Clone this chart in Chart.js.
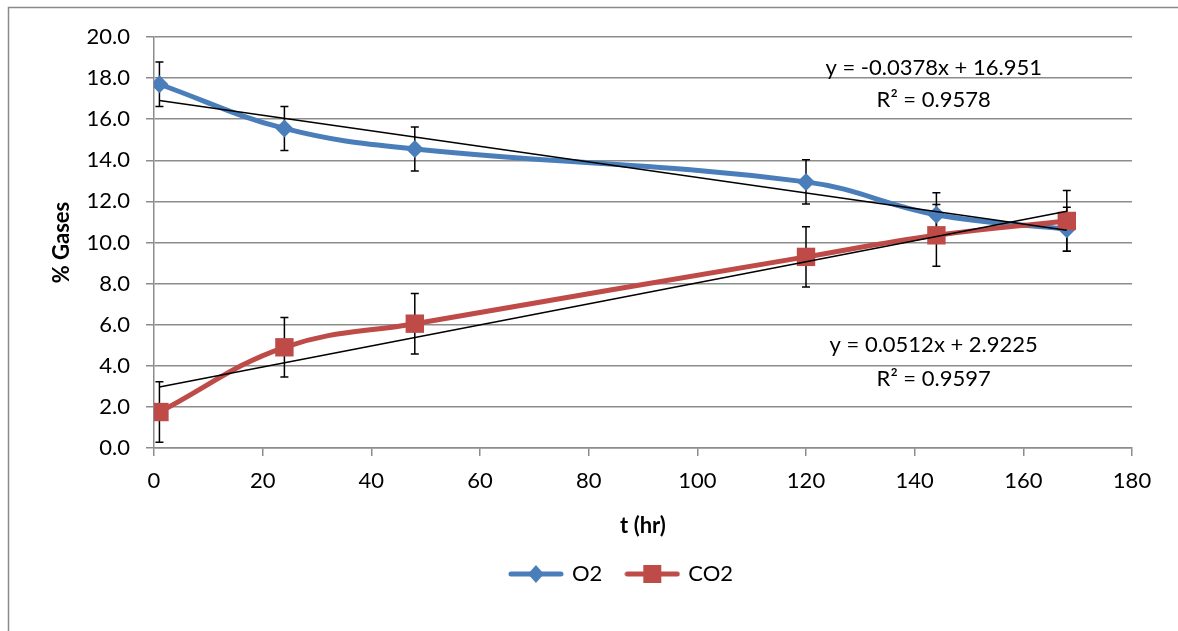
<!DOCTYPE html>
<html>
<head>
<meta charset="utf-8">
<script src="https://cdn.jsdelivr.net/npm/chart.js@4.4.1/dist/chart.umd.min.js"></script>
<style>
  html, body { margin: 0; padding: 0; background: #fff; }
</style>
</head>
<body>
<canvas id="gasChart" width="1178" height="631"></canvas>
<script>
// sampling times (hr) and measured gas levels (%)
var hours = [1, 24, 48, 120, 144, 168];
var o2 = [17.7, 15.55, 14.55, 12.95, 11.35, 10.65];
var o2Err = [1.08, 1.07, 1.07, 1.08, 1.07, 1.07];
var co2 = [1.75, 4.9, 6.05, 9.3, 10.35, 11.05];
var co2Err = [1.47, 1.45, 1.47, 1.47, 1.5, 1.48];

// linear trend lines, end points
var trendHours = [1, 168];
var o2Trend = [16.91, 10.60];
var co2Trend = [2.97, 11.52];

var o2Label = ['y = -0.0378x + 16.951', 'R\u00b2 = 0.9578'];
var co2Label = ['y = 0.0512x + 2.9225', 'R\u00b2 = 0.9597'];

var xTicks = [0, 20, 40, 60, 80, 100, 120, 140, 160, 180];

var BLUE = '#4A7EBB';
var RED = '#BE4B48';
var GRID = '#8C8C8C';
var FONT = 'Lato, "Open Sans", sans-serif';
var FS = 22;

function pts(xs, ys) {
    return xs.map(function (x, i) { return {x: x, y: ys[i]}; });
}

function legendIcon(color, shape) {
    var c = document.createElement('canvas');
    c.width = 56; c.height = 22;
    var g = c.getContext('2d');
    g.strokeStyle = color; g.lineWidth = 5; g.lineCap = 'round';
    g.beginPath(); g.moveTo(3, 11); g.lineTo(53, 11); g.stroke();
    g.fillStyle = color;
    if (shape === 'diamond') {
        g.beginPath(); g.moveTo(28, 2); g.lineTo(36, 11); g.lineTo(28, 20); g.lineTo(20, 11);
        g.closePath(); g.fill();
    } else {
        g.fillRect(19, 2, 18, 18);
    }
    return c;
}

var errorBars = {
    id: 'errorBars',
    beforeDatasetsDraw: function (chart) {
        var ctx = chart.ctx, xs = chart.scales.x, ys = chart.scales.y;
        ctx.save();
        ctx.strokeStyle = '#000';
        ctx.lineWidth = 1.5;
        chart.data.datasets.forEach(function (ds) {
            if (!ds.errors) return;
            ds.data.forEach(function (p, i) {
                var x = xs.getPixelForValue(p.x);
                var yt = ys.getPixelForValue(p.y + ds.errors[i]);
                var yb = ys.getPixelForValue(p.y - ds.errors[i]);
                ctx.beginPath();
                ctx.moveTo(x, yt); ctx.lineTo(x, yb);
                ctx.moveTo(x - 4, yt); ctx.lineTo(x + 4, yt);
                ctx.moveTo(x - 4, yb); ctx.lineTo(x + 4, yb);
                ctx.stroke();
            });
        });
        ctx.restore();
    }
};

var trendLabels = {
    id: 'trendLabels',
    afterDatasetsDraw: function (chart) {
        var ctx = chart.ctx, xs = chart.scales.x, ys = chart.scales.y;
        ctx.save();
        ctx.fillStyle = '#000';
        ctx.font = FS + 'px ' + FONT;
        ctx.textAlign = 'center';
        ctx.textBaseline = 'middle';
        var cx = xs.getPixelForValue(143.5);
        ctx.fillText(o2Label[0], cx, ys.getPixelForValue(18.5));
        ctx.fillText(o2Label[1], cx, ys.getPixelForValue(16.92));
        ctx.fillText(co2Label[0], cx, ys.getPixelForValue(5.0));
        ctx.fillText(co2Label[1], cx, ys.getPixelForValue(3.38));
        ctx.restore();
    }
};

var frame = {
    id: 'frame',
    beforeDraw: function (chart) {
        var ctx = chart.ctx;
        ctx.save();
        ctx.fillStyle = '#fff';
        ctx.fillRect(0, 0, chart.width, chart.height);
        ctx.strokeStyle = '#8a8a8a';
        ctx.lineWidth = 1.5;
        ctx.beginPath();
        ctx.moveTo(8.5, chart.height); ctx.lineTo(8.5, 7.5); ctx.lineTo(chart.width, 7.5);
        ctx.stroke();
        ctx.restore();
    },
    afterLayout: function (chart) {
        // push the legend row under the plot, like the original
        chart.legend.left += 56;
        chart.legend.right += 56;
    }
};

Chart.defaults.color = '#000';
Chart.defaults.font.family = FONT;
Chart.defaults.font.size = FS;

var ctx = document.getElementById('gasChart').getContext('2d');
var chart = new Chart(ctx, {
    type: 'scatter',
    data: {
        datasets: [{
            label: 'O2 trend',
            data: pts(trendHours, o2Trend),
            showLine: true,
            borderColor: '#000',
            borderWidth: 1.5,
            pointRadius: 0,
            order: 0
        }, {
            label: 'CO2 trend',
            data: pts(trendHours, co2Trend),
            showLine: true,
            borderColor: '#000',
            borderWidth: 1.5,
            pointRadius: 0,
            order: 0
        }, {
            label: 'O2',
            data: pts(hours, o2),
            errors: o2Err,
            showLine: true,
            tension: 0.4,
            borderColor: BLUE,
            backgroundColor: BLUE,
            borderWidth: 5,
            pointStyle: 'rectRot',
            pointRadius: 9,
            pointBorderWidth: 0,
            order: 2
        }, {
            label: 'CO2',
            data: pts(hours, co2),
            errors: co2Err,
            showLine: true,
            tension: 0.4,
            borderColor: RED,
            backgroundColor: RED,
            borderWidth: 5,
            pointStyle: 'rect',
            pointRadius: 13,
            pointBorderWidth: 0,
            order: 1
        }]
    },
    options: {
        responsive: false,
        animation: false,
        layout: {
            padding: {left: 0, right: 46, top: 37, bottom: 36}
        },
        scales: {
            x: {
                type: 'linear',
                min: 0,
                max: 180,
                afterBuildTicks: function (scale) {
                    scale.ticks = xTicks.map(function (v) { return {value: v}; });
                },
                afterFit: function (scale) { scale.height = 90; },
                ticks: {padding: 12, font: {size: FS}},
                grid: {drawOnChartArea: false, drawTicks: true, tickLength: 8, color: GRID, lineWidth: 1.5},
                border: {color: GRID, width: 1.5},
                title: {
                    display: true,
                    text: 't (hr)',
                    font: {size: FS, weight: 'bold', lineHeight: 1.0},
                    padding: {top: 0, bottom: 1}
                }
            },
            y: {
                min: 0,
                max: 20,
                afterFit: function (scale) { scale.width = 154; },
                ticks: {
                    stepSize: 2,
                    padding: 16,
                    font: {size: FS},
                    callback: function (v) { return v.toFixed(1); }
                },
                grid: {color: GRID, lineWidth: 1.5, tickLength: 8},
                border: {color: GRID, width: 1.5},
                title: {
                    display: true,
                    text: '% Gases',
                    font: {size: FS, weight: 'bold', lineHeight: 1.0},
                    padding: {top: 51, bottom: 0}
                }
            }
        },
        plugins: {
            legend: {
                position: 'bottom',
                labels: {
                    usePointStyle: true,
                    pointStyleWidth: 50,
                    padding: 25,
                    font: {size: FS},
                    generateLabels: function () {
                        return [
                            {text: 'O2', pointStyle: legendIcon(BLUE, 'diamond'), fillStyle: BLUE, strokeStyle: BLUE, lineWidth: 0, hidden: false, datasetIndex: 2},
                            {text: 'CO2', pointStyle: legendIcon(RED, 'square'), fillStyle: RED, strokeStyle: RED, lineWidth: 0, hidden: false, datasetIndex: 3}
                        ];
                    }
                }
            },
            tooltip: {enabled: false}
        }
    },
    plugins: [frame, errorBars, trendLabels]
});
</script>
</body>
</html>
